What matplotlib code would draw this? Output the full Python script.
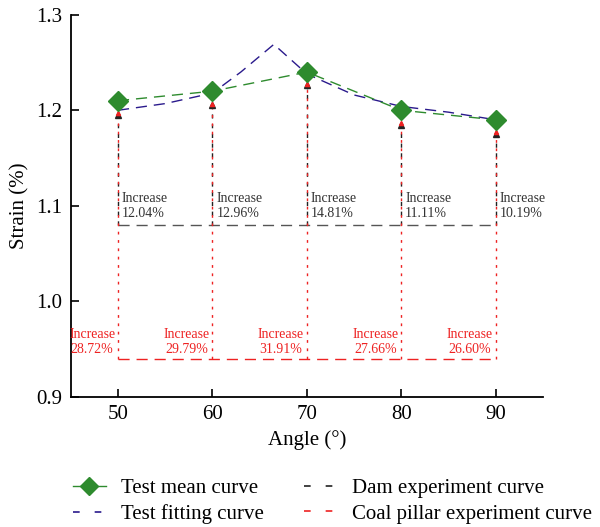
import numpy as np
import matplotlib.pyplot as plt
from matplotlib.lines import Line2D

plt.rcParams['font.family'] = ['Liberation Serif', 'DejaVu Serif']

# data
angles = [50, 60, 70, 80, 90]
mean_strain = [1.21, 1.22, 1.24, 1.20, 1.19]
fit_angles = [50, 55, 60, 63, 66.5, 70, 75, 80, 85, 90]
fit_strain = [1.200, 1.207, 1.218, 1.240, 1.269, 1.238, 1.216, 1.204, 1.198, 1.190]
arrow_strain = [1.195, 1.205, 1.226, 1.185, 1.175]
dam_level = 1.08
coal_level = 0.94
dam_increase = ["12.04%", "12.96%", "14.81%", "11.11%", "10.19%"]
coal_increase = ["28.72%", "29.79%", "31.91%", "27.66%", "26.60%"]

green = '#2e8b2e'
blue = '#2a1a8c'
red = '#ee2222'
dark = '#333333'

fig = plt.figure(figsize=(6.0, 5.27), dpi=100)
ax = fig.add_axes([0.118, 0.247, 0.787, 0.725])

# dam and coal pillar experiment lines
ax.plot([angles[0], angles[-1]], [dam_level] * 2, color='#555555', lw=1.0,
        dashes=(8, 5))
ax.plot([angles[0], angles[-1]], [coal_level] * 2, color=red, lw=1.0,
        dashes=(8, 5))
for i, a in enumerate(angles):
    ax.plot([a, a], [dam_level, arrow_strain[i]], color='#222222', lw=1.0,
            dashes=(3, 4))
    ax.plot([a, a], [coal_level, arrow_strain[i]], color=red, lw=1.0,
            dashes=(2, 4))
    ax.plot(a, arrow_strain[i], marker='^', color='#222222', ms=5, zorder=4)
    ax.plot(a, arrow_strain[i] + 0.002, marker='^', color=red, ms=3, zorder=5)
    ax.text(a + 0.4, 1.1, "Increase\n" + dam_increase[i], fontsize=10,
            color=dark, ha='left', va='center', linespacing=1.15)
    ax.text(a - 0.3, 0.9575, "Increase\n" + coal_increase[i], fontsize=10,
            color=red, ha='right', va='center', linespacing=1.15,
            multialignment='center')

# test curves
ax.plot(fit_angles, fit_strain, color=blue, lw=1.0, dashes=(8, 5), zorder=3)
ax.plot(angles, mean_strain, color=green, lw=1.0, dashes=(8, 5), marker='D',
        ms=10, markerfacecolor=green, markeredgecolor=green, zorder=6)

ax.set_xlim(45, 95)
ax.set_ylim(0.9, 1.3)
ax.set_xticks(angles)
ax.set_yticks([0.9, 1.0, 1.1, 1.2, 1.3])
ax.set_yticklabels(['0.9', '1.0', '1.1', '1.2', '1.3'])
ax.tick_params(direction='in', length=6, width=1.2, labelsize=15, pad=6)
for s in ['top', 'right']:
    ax.spines[s].set_visible(False)
for s in ['left', 'bottom']:
    ax.spines[s].set_linewidth(1.3)
ax.set_xlabel('Angle (°)', fontsize=15, labelpad=4)
ax.set_ylabel('Strain (%)', fontsize=15, labelpad=5)

handles = [
    Line2D([], [], color=green, lw=1.0, marker='D', ms=9),
    Line2D([], [], color=blue, lw=1.2, dashes=(4, 9)),
    Line2D([], [], color='#222222', lw=1.2, dashes=(4, 9)),
    Line2D([], [], color=red, lw=1.2, dashes=(4, 9)),
]
labels = ['Test mean curve', 'Test fitting curve', 'Dam experiment curve',
          'Coal pillar experiment curve']
fig.legend(handles, labels, loc='lower left', bbox_to_anchor=(0.09, -0.03),
           ncol=2, frameon=False, fontsize=15, handlelength=1.6,
           columnspacing=1.9, handletextpad=0.72, labelspacing=0.3)

fig.savefig('out.png', dpi=100)
